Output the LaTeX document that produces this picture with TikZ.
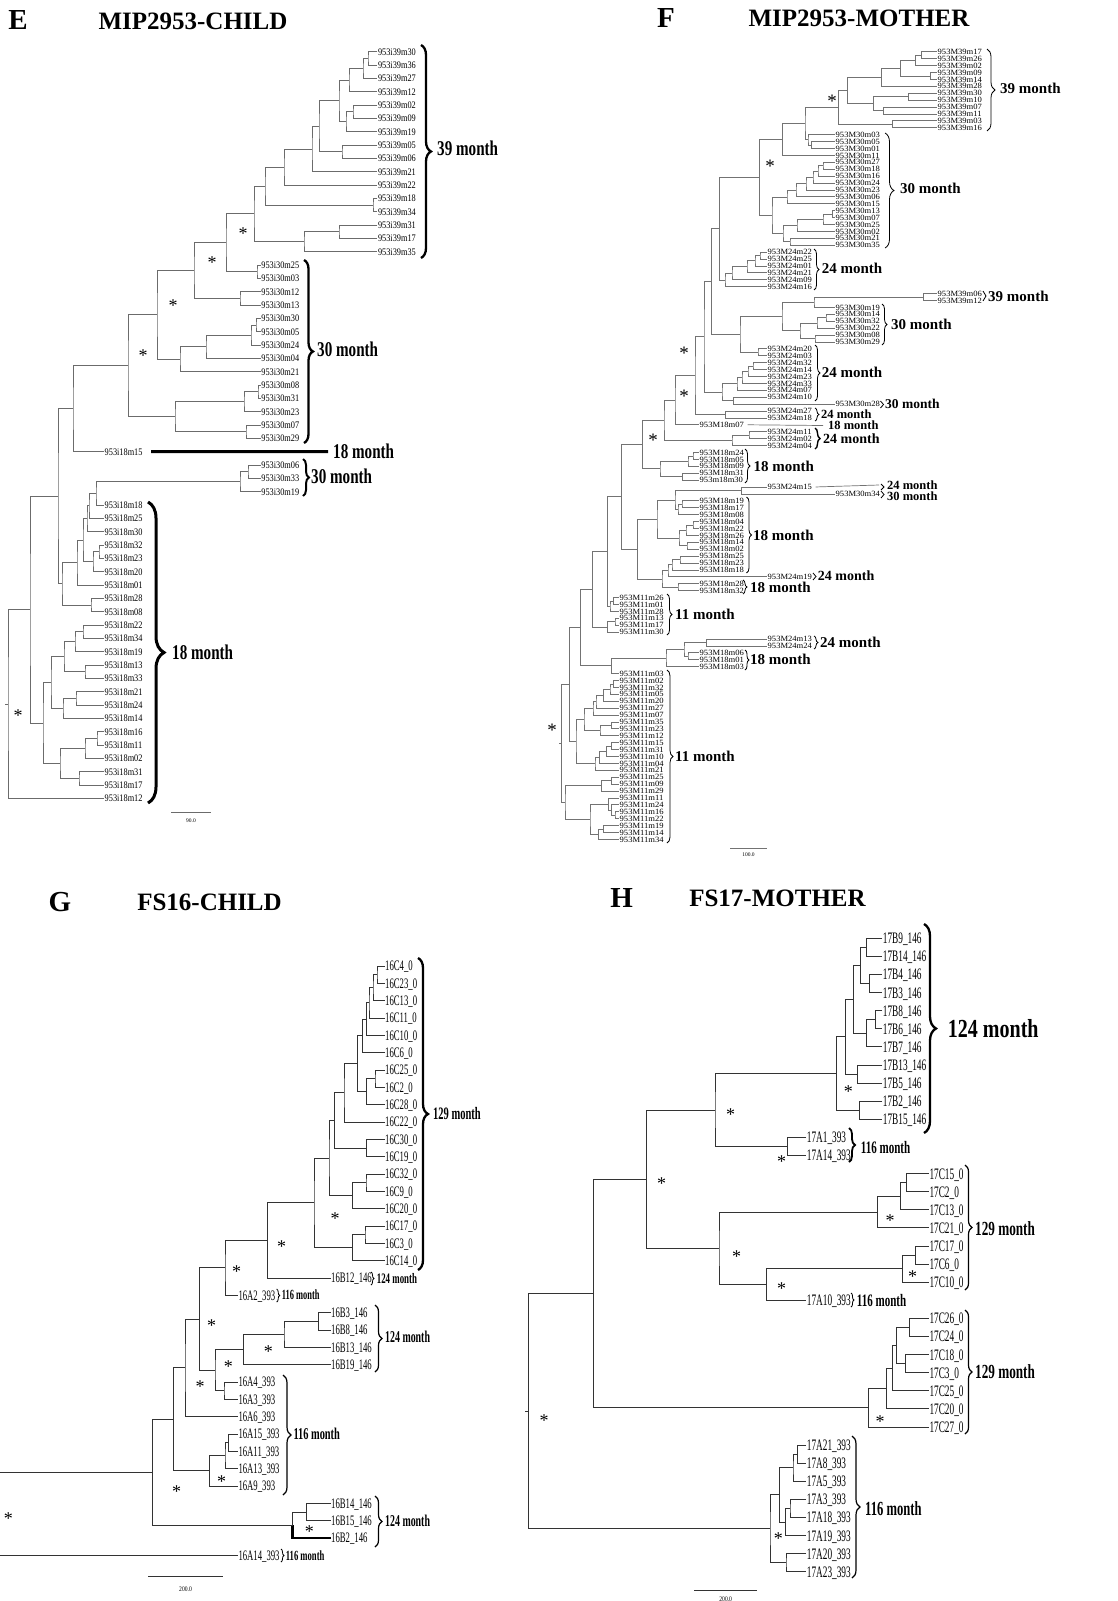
\documentclass[tikz,border=0pt]{standalone}
\usepackage{fontspec}
\setmainfont{Liberation Serif}
\usetikzlibrary{calc,decorations.pathreplacing}
\tikzset{
 tree/.style={draw=black!62,line width=0.8pt},
 lfE/.style={anchor=west,inner sep=0.5pt,font=\fontsize{10}{10}\selectfont,text height=6.8pt,text depth=0pt},
 lfF/.style={anchor=west,inner sep=0.5pt,font=\fontsize{8}{8}\selectfont,text height=5.4pt,text depth=0pt},
 lfG/.style={anchor=west,inner sep=0.5pt,font=\fontsize{14.5}{14.5}\selectfont,text height=9.8pt,text depth=0pt},
 lfH/.style={anchor=west,inner sep=0.5pt,font=\fontsize{16}{16}\selectfont,text height=10.8pt,text depth=0pt},
 ast/.style={inner sep=0pt,font=\fontsize{18}{18}\selectfont,yshift=-3.4pt},
 ttl/.style={inner sep=0pt,font=\fontsize{25}{25}\selectfont\bfseries},
 letr/.style={inner sep=0pt,font=\fontsize{29}{29}\selectfont\bfseries},
 sbl/.style={inner sep=0pt,font=\fontsize{5.5}{5.5}\selectfont}
}
\newcommand\tjoin[4]{\path let \p1=(#3),\p2=(#4) in ({#2pt},{0.5*(\y1+\y2)}) coordinate (#1);\draw[tree] (#3) -| (#1) |- (#4);}
\newcommand\leafE[4]{\node[lfE] (#1) at (#2,{-(51.7+13.3333*#3)}) {\scalebox{0.83}[1]{#4}};}
\newcommand\leafF[4]{\node[lfF] (#1) at (#2,{-(51.7+6.909*#3)}) {\scalebox{1.07}[1]{#4}};}
\newcommand\leafG[4]{\node[lfG] (#1) at (#2,{-(966+17.333*#3)}) {\scalebox{0.6}[1]{#4}};}
\newcommand\leafH[4]{\node[lfH] (#1) at (#2,{-(938.3+18.1*#3)}) {\scalebox{0.58}[1]{#4}};}
\newcommand\monthlab[6]{\node[anchor=west,inner sep=0pt,font=\fontsize{#4}{#4}\selectfont\bfseries] (#1) at (#2,-#3) {\scalebox{#5}[1]{#6}};}
\newcommand\astk[3]{\node[ast] (#1) at (#2,-#3) {*};}
\newcommand\brc[5]{\draw[decorate,decoration={brace,amplitude=#5pt},line width=#1pt] (#2,-#3) -- (#2,-#4);}
\begin{document}
\begin{tikzpicture}[x=1pt,y=1pt]
\useasboundingbox (0,0) rectangle (1118,-1601);
\fill[white] (0,0) rectangle (1118,-1601);
% ---------------- titles
\node[letr] (lE) at (18,-20) {E};
\node[ttl] (tE) at (193,-21) {MIP2953-CHILD};
\node[letr] (lF) at (666,-18) {F};
\node[ttl] (tF) at (859,-18) {MIP2953-MOTHER};
\node[letr] (lG) at (60,-902) {G};
\node[ttl] (tG) at (209.5,-902) {FS16-CHILD};
\node[letr] (lH) at (621.7,-898.3) {H};
\node[ttl] (tH) at (777.5,-898.3) {FS17-MOTHER};
% ================= PANEL E
\tikzset{tree/.style={draw=black!58,line width=0.8pt}}
\foreach \n [count=\k from 0] in {39m30,39m36,39m27,39m12,39m02,39m09,39m19,39m05,39m06,39m21,39m22,39m18,39m34,39m31,39m17,39m35}{\leafE{E\n}{377.3}{\k}{953i\n}}
\foreach \n [count=\k from 16] in {30m25,30m03,30m12,30m13,30m30,30m05,30m24,30m04,30m21,30m08,30m31,30m23,30m07,30m29}{\leafE{E\n}{260.7}{\k}{953i\n}}
\leafE{E18m15}{104}{30}{953i18m15}
\foreach \n [count=\k from 31] in {30m06,30m33,30m19}{\leafE{E\n}{260.7}{\k}{953i\n}}
\foreach \n [count=\k from 34] in {18m18,18m25,18m30,18m32,18m23,18m20,18m01,18m28,18m08,18m22,18m34,18m19,18m13,18m33,18m21,18m24,18m14,18m16,18m11,18m02,18m31,18m17,18m12}{\leafE{E\n}{104}{\k}{953i\n}}
\tjoin{ea1}{368}{E39m30.west}{E39m36.west}
\tjoin{ea2}{363}{ea1}{E39m27.west}
\tjoin{ea3}{349}{ea2}{E39m12.west}
\tjoin{ea4}{353}{E39m02.west}{E39m09.west}
\tjoin{ea5}{346}{ea4}{E39m19.west}
\tjoin{ea6}{339}{ea3}{ea5}
\tjoin{ea7}{342}{E39m05.west}{E39m06.west}
\tjoin{ea8}{319}{ea6}{ea7}
\tjoin{ea9}{312}{ea8}{E39m21.west}
\tjoin{ea10}{284}{ea9}{E39m22.west}
\tjoin{ea11}{373}{E39m18.west}{E39m34.west}
\tjoin{ea12}{265}{ea10}{ea11}
\tjoin{ea13}{339}{E39m31.west}{E39m17.west}
\tjoin{ea14}{304}{ea13}{E39m35.west}
\tjoin{ea15}{254}{ea12}{ea14}
\tjoin{eb1}{257}{E30m25.west}{E30m03.west}
\tjoin{ea16}{226}{ea15}{eb1}
\tjoin{eb2}{240}{E30m12.west}{E30m13.west}
\tjoin{ea17}{194}{ea16}{eb2}
\tjoin{eb3}{256}{E30m30.west}{E30m05.west}
\tjoin{eb4}{251}{eb3}{E30m24.west}
\tjoin{eb5}{206}{eb4}{E30m04.west}
\tjoin{eb6}{180}{eb5}{E30m21.west}
\tjoin{ea18}{157}{ea17}{eb6}
\tjoin{eb7}{258}{E30m08.west}{E30m31.west}
\tjoin{eb8}{244}{eb7}{E30m23.west}
\tjoin{eb9}{246}{E30m07.west}{E30m29.west}
\tjoin{eb10}{175}{eb8}{eb9}
\tjoin{ea19}{128}{ea18}{eb10}
\tjoin{ea20}{73}{ea19}{E18m15.west}
\tjoin{ec1}{248}{E30m06.west}{E30m33.west}
\tjoin{ec2}{240}{ec1}{E30m19.west}
\tjoin{ed1}{96}{ec2}{E18m18.west}
\tjoin{ed2}{89}{ed1}{E18m25.west}
\tjoin{ed3}{87}{ed2}{E18m30.west}
\tjoin{ed4}{99}{E18m32.west}{E18m23.west}
\tjoin{ed5}{93}{ed4}{E18m20.west}
\tjoin{ed6}{83}{ed3}{ed5}
\tjoin{ed7}{77}{ed6}{E18m01.west}
\tjoin{ed8}{91}{E18m28.west}{E18m08.west}
\tjoin{ed9}{62}{ed7}{ed8}
\tjoin{ea21}{58}{ea20}{ed9}
\tjoin{ef1}{83}{E18m22.west}{E18m34.west}
\tjoin{ef2}{75}{ef1}{E18m19.west}
\tjoin{ef3}{85}{E18m13.west}{E18m33.west}
\tjoin{ef4}{64}{ef2}{ef3}
\tjoin{ef5}{76}{E18m21.west}{E18m24.west}
\tjoin{ef6}{63}{ef5}{E18m14.west}
\tjoin{ef7}{51}{ef4}{ef6}
\tjoin{ef8}{97}{E18m16.west}{E18m11.west}
\tjoin{ef9}{85}{ef8}{E18m02.west}
\tjoin{ef10}{79}{E18m31.west}{E18m17.west}
\tjoin{ef11}{60}{ef9}{ef10}
\tjoin{ef12}{43}{ef7}{ef11}
\tjoin{eg1}{30}{ea21}{ef12}
\tjoin{eroot}{8}{eg1}{E18m12.west}
\draw[tree] (eroot) -- ++(-3,0);
\astk{sE1}{243}{230}\astk{sE2}{212}{259}\astk{sE3}{173}{302}\astk{sE4}{143}{352}\astk{sE5}{18}{712}
\brc{2.3}{421}{45}{258}{10}
\brc{2.3}{304}{260}{443}{9}
\brc{2.0}{303}{459}{496}{6}
\brc{3.0}{148}{502}{803}{16}
\monthlab{mE39}{437}{148}{21}{0.72}{39 month}
\monthlab{mE30a}{317}{349}{21}{0.72}{30 month}
\monthlab{mE18a}{333}{451.7}{21}{0.72}{18 month}
\monthlab{mE30b}{311}{476}{21}{0.72}{30 month}
\monthlab{mE18b}{172}{652}{21}{0.72}{18 month}
\draw[line width=3pt] ([xshift=8pt]E18m15.east) -- ([xshift=-5pt]mE18a.west);
\coordinate (sbE1) at (171,-812.7); \coordinate (sbE2) at (211,-812.7);
\draw[tree] (sbE1) -- (sbE2);
\node[sbl] (sbEl) at (191,-821) {90.0};
% ================= PANEL F
\tikzset{tree/.style={draw=black!55,line width=0.7pt}}
\foreach \n [count=\k from 0] in {39m17,39m26,39m02,39m09,39m14,39m28,39m30,39m10,39m07,39m11,39m03,39m16}{\leafF{F\n}{937}{\k}{953M\n}}
\foreach \n [count=\k from 12] in {30m03,30m05,30m01,30m11,30m27,30m18,30m16,30m24,30m23,30m06,30m15,30m13,30m07,30m25,30m02,30m21,30m35}{\leafF{F\n}{835}{\k}{953M\n}}
\foreach \n [count=\k from 29] in {24m22,24m25,24m01,24m21,24m09,24m16}{\leafF{F\n}{767}{\k}{953M\n}}
\foreach \n [count=\k from 35] in {39m06,39m12}{\leafF{F\n}{937}{\k}{953M\n}}
\foreach \n [count=\k from 37] in {30m19,30m14,30m32,30m22,30m08,30m29}{\leafF{F\n}{835}{\k}{953M\n}}
\foreach \n [count=\k from 43] in {24m20,24m03,24m32,24m14,24m23,24m33,24m07,24m10}{\leafF{F\n}{767}{\k}{953M\n}}
\leafF{F30m28}{835}{51}{953M30m28}
\leafF{F24m27}{767}{52}{953M24m27}
\leafF{F24m18}{767}{53}{953M24m18}
\leafF{F18m07}{699}{54}{953M18m07}
\foreach \n [count=\k from 55] in {24m11,24m02,24m04}{\leafF{F\n}{767}{\k}{953M\n}}
\foreach \n [count=\k from 58] in {18m24,18m05,18m09,18m31}{\leafF{F\n}{699}{\k}{953M\n}}
\leafF{F18m30}{699}{62}{953m18m30}
\leafF{F24m15}{767}{63}{953M24m15}
\leafF{F30m34}{835}{64}{953M30m34}
\foreach \n [count=\k from 65] in {18m19,18m17,18m08,18m04,18m22,18m26,18m14,18m02,18m25,18m23,18m18}{\leafF{F\n}{699}{\k}{953M\n}}
\leafF{F24m19}{767}{76}{953M24m19}
\leafF{F18m28}{699}{77}{953M18m28}
\leafF{F18m32}{699}{78}{953M18m32}
\foreach \n [count=\k from 79] in {11m26,11m01,11m28,11m13,11m17,11m30}{\leafF{F\n}{619}{\k}{953M\n}}
\leafF{F24m13}{767}{85}{953M24m13}
\leafF{F24m24}{767}{86}{953M24m24}
\foreach \n [count=\k from 87] in {18m06,18m01,18m03}{\leafF{F\n}{699}{\k}{953M\n}}
\foreach \n [count=\k from 90] in {11m03,11m02,11m32,11m05,11m20,11m27,11m07,11m35,11m23,11m12,11m15,11m31,11m10,11m04,11m21,11m25,11m09,11m29,11m11,11m24,11m16,11m22,11m19,11m14,11m34}{\leafF{F\n}{619}{\k}{953M\n}}
\tjoin{fa1}{921.7}{F39m17.west}{F39m26.west}
\tjoin{fa2}{915}{fa1}{F39m02.west}
\tjoin{fa3}{930}{F39m09.west}{F39m14.west}
\tjoin{fa4}{900}{fa2}{fa3}
\tjoin{fa5}{881.7}{fa4}{F39m28.west}
\tjoin{fa6}{908}{F39m30.west}{F39m10.west}
\tjoin{fa7}{883}{F39m07.west}{F39m11.west}
\tjoin{fa8}{873}{fa6}{fa7}
\tjoin{fa9}{847}{fa5}{fa8}
\tjoin{fa10}{892}{F39m03.west}{F39m16.west}
\tjoin{fa11}{838}{fa9}{fa10}
\tjoin{fb0}{811.7}{F30m05.west}{F30m01.west}
\tjoin{fb1}{808}{F30m03.west}{fb0}
\tjoin{fb2}{805}{fa11}{fb1}
\tjoin{fb3}{782.7}{fb2}{F30m11.west}
\tjoin{fc1}{823}{F30m27.west}{F30m18.west}
\tjoin{fc2}{818}{fc1}{F30m16.west}
\tjoin{fc3}{813}{fc2}{F30m24.west}
\tjoin{fc4}{806}{fc3}{F30m23.west}
\tjoin{fc5}{796}{fc4}{F30m06.west}
\tjoin{fc6}{787}{fc5}{F30m15.west}
\tjoin{fc7}{832}{F30m13.west}{F30m07.west}
\tjoin{fc8}{823}{fc7}{F30m25.west}
\tjoin{fc9}{797}{fc8}{F30m02.west}
\tjoin{fc10}{790}{F30m21.west}{F30m35.west}
\tjoin{fc11}{783}{fc9}{fc10}
\tjoin{fc12}{772}{fc6}{fc11}
\tjoin{fb4}{759.3}{fb3}{fc12}
\tjoin{fd1}{760}{F24m22.west}{F24m25.west}
\tjoin{fd2}{755}{fd1}{F24m01.west}
\tjoin{fd3}{747}{fd2}{F24m21.west}
\tjoin{fd4}{732}{fd3}{F24m09.west}
\tjoin{fd5}{725}{fd4}{F24m16.west}
\tjoin{fd6}{719.3}{fb4}{fd5}
\tjoin{fg1}{923}{F39m06.west}{F39m12.west}
\tjoin{fg2}{814}{fg1}{F30m19.west}
\tjoin{fg3}{826}{F30m14.west}{F30m32.west}
\tjoin{fg4}{817}{fg3}{F30m22.west}
\tjoin{fg6}{815}{F30m08.west}{F30m29.west}
\tjoin{fg5}{800}{fg4}{fg6}
\tjoin{fg7}{782}{fg2}{fg5}
\tjoin{fh1}{758}{F24m20.west}{F24m03.west}
\tjoin{fj1}{740}{fg7}{fh1}
\tjoin{fe}{711.7}{fd6}{fj1}
\tjoin{fh2}{753}{F24m32.west}{F24m14.west}
\tjoin{fh3}{748}{fh2}{F24m23.west}
\tjoin{fh4}{742}{fh3}{F24m33.west}
\tjoin{fh5}{737}{fh4}{F24m07.west}
\tjoin{fi1}{733.3}{F24m10.west}{F30m28.west}
\tjoin{fh6}{722}{fh5}{fi1}
\tjoin{fk1}{704}{fe}{fh6}
\tjoin{fl1}{725.7}{F24m27.west}{F24m18.west}
\tjoin{fk2}{695}{fk1}{fl1}
\tjoin{fk3}{675}{fk2}{F18m07.west}
\tjoin{fm0}{749}{F24m11.west}{F24m02.west}
\tjoin{fm1}{732}{fm0}{F24m04.west}
\tjoin{fk4}{664}{fk3}{fm1}
\tjoin{fn1}{693}{F18m24.west}{F18m05.west}
\tjoin{fn2}{688}{fn1}{F18m09.west}
\tjoin{fn3}{682.7}{F18m31.west}{F18m30.west}
\tjoin{fn}{660}{fn2}{fn3}
\tjoin{fk5}{642.7}{fk4}{fn}
\tjoin{fq1}{741.7}{F24m15.west}{F30m34.west}
\tjoin{fr1}{682}{F18m19.west}{F18m17.west}
\tjoin{fr2}{678}{fr1}{F18m08.west}
\tjoin{fq2}{675}{fq1}{fr2}
\tjoin{fr3}{693}{F18m04.west}{F18m22.west}
\tjoin{fr4}{686}{fr3}{F18m26.west}
\tjoin{fr5}{687}{F18m14.west}{F18m02.west}
\tjoin{fr6}{679}{fr4}{fr5}
\tjoin{fr7}{657}{fq2}{fr6}
\tjoin{fs1}{680}{F18m25.west}{F18m23.west}
\tjoin{fs2}{672}{fs1}{F18m18.west}
\tjoin{fs3}{668}{fs2}{F24m19.west}
\tjoin{fs4}{678}{F18m28.west}{F18m32.west}
\tjoin{fs5}{662}{fs3}{fs4}
\tjoin{fp}{637.7}{fr7}{fs5}
\tjoin{fk6}{621.7}{fk5}{fp}
\tjoin{ft1}{613.3}{F11m26.west}{F11m01.west}
\tjoin{ft2}{610}{ft1}{F11m28.west}
\tjoin{fu1}{607.3}{fk6}{ft2}
\tjoin{ft3}{615}{F11m13.west}{F11m17.west}
\tjoin{ft4}{607.3}{ft3}{F11m30.west}
\tjoin{fu2}{592.7}{fu1}{ft4}
\tjoin{fx1}{706.7}{F24m13.west}{F24m24.west}
\tjoin{fx2}{688}{F18m06.west}{F18m01.west}
\tjoin{fx3}{684}{fx1}{fx2}
\tjoin{fx4}{666}{fx3}{F18m03.west}
\tjoin{fx5}{611.7}{fx4}{F11m03.west}
\tjoin{fu3}{580.7}{fu2}{fx5}
\tjoin{fya1}{613.3}{F11m02.west}{F11m32.west}
\tjoin{fya2}{610}{fya1}{F11m05.west}
\tjoin{fya3}{603.3}{fya2}{F11m20.west}
\tjoin{fya4}{596}{fya3}{F11m27.west}
\tjoin{fya5}{593}{fya4}{F11m07.west}
\tjoin{fyb0}{611.7}{F11m35.west}{F11m23.west}
\tjoin{fya6}{600}{fyb0}{F11m12.west}
\tjoin{fya7}{584}{fya5}{fya6}
\tjoin{fyb1}{611.7}{F11m15.west}{F11m31.west}
\tjoin{fyb2}{606.7}{fyb1}{F11m10.west}
\tjoin{fyb3}{599.3}{fyb2}{F11m04.west}
\tjoin{fyb4}{595}{fyb3}{F11m21.west}
\tjoin{fya}{576}{fya7}{fyb4}
\tjoin{fu4}{569.3}{fu3}{fya}
\tjoin{fza}{611.7}{F11m25.west}{F11m09.west}
\tjoin{fz1}{601.7}{fza}{F11m29.west}
\tjoin{fz3}{615}{F11m16.west}{F11m22.west}
\tjoin{fz4}{611.7}{F11m24.west}{fz3}
\tjoin{fz5}{608.3}{F11m11.west}{fz4}
\tjoin{fz6}{603.3}{F11m19.west}{F11m14.west}
\tjoin{fz7}{598.3}{fz6}{F11m34.west}
\tjoin{fz8}{590}{fz5}{fz7}
\tjoin{fB}{565}{fz1}{fz8}
\tjoin{froot}{561.7}{fu4}{fB}
\draw[tree] (froot) -- ++(-3,0);
\begin{scope}[ast/.style={inner sep=0pt,font=\fontsize{19}{19}\selectfont,yshift=-3.6pt}]
\astk{sF1}{832}{98}\astk{sF2}{770}{163}\astk{sF3}{684}{350}\astk{sF4}{684}{393}\astk{sF5}{653}{437}\astk{sF6}{552}{727}
\end{scope}
\brc{0.8}{987}{49}{131}{8}
\brc{0.8}{885}{133}{248}{9}
\brc{0.8}{814}{249}{290}{5}
\brc{0.8}{983}{291}{301}{3}
\brc{0.8}{882}{304}{345}{5}
\brc{0.8}{815}{345}{401}{5}
\brc{0.8}{880.5}{401}{408}{3}
\brc{0.8}{815}{408}{421}{4}
\brc{1.4}{815}{428}{449}{5}
\brc{0.8}{745}{449}{483}{5}
\brc{0.8}{881}{484}{490}{3}
\brc{0.8}{881}{491}{498}{3}
\brc{0.8}{746.5}{497}{573}{5}
\brc{0.8}{813}{573}{580}{3}
\brc{0.8}{743}{580}{594}{4}
\brc{0.8}{667}{594}{635}{5}
\brc{0.8}{814}{636}{649}{4}
\brc{0.8}{745}{650}{670}{4}
\brc{0.8}{667}{670}{843}{6}
\monthlab{mF39a}{1000}{88}{15}{1}{39 month}
\monthlab{mF30a}{900}{188}{15}{1}{30 month}
\monthlab{mF24a}{821.7}{268}{15}{1}{24 month}
\monthlab{mF39b}{988}{296.7}{15}{1}{39 month}
\monthlab{mF30b}{891}{324}{15}{1}{30 month}
\monthlab{mF24b}{821.7}{372.7}{15}{1}{24 month}
\monthlab{mF30c}{885}{404}{13.5}{1}{30 month}
\monthlab{mF24c}{821}{414}{12.5}{1}{24 month}
\monthlab{mF18a}{828}{425.5}{12.5}{1}{18 month}
\monthlab{mF24d}{823}{439}{14}{1}{24 month}
\monthlab{mF18b}{753.3}{466}{15}{1}{18 month}
\monthlab{mF24e}{887}{485}{12.5}{1}{24 month}
\monthlab{mF30d}{887}{496.5}{12.5}{1}{30 month}
\monthlab{mF18c}{753}{535}{15}{1}{18 month}
\monthlab{mF24f}{817.7}{576}{14}{1}{24 month}
\monthlab{mF18d}{750}{587.5}{15}{1}{18 month}
\monthlab{mF11a}{675}{614}{15}{1}{11 month}
\monthlab{mF24g}{820}{642}{15}{1}{24 month}
\monthlab{mF18e}{750}{659.7}{15}{1}{18 month}
\monthlab{mF11b}{675}{756.7}{15}{1}{11 month}
\draw[tree] ([xshift=3pt]F18m07.east) -- ([xshift=-5pt]mF18a.west);
\draw[tree] ([xshift=3pt]F24m15.east) -- ([xshift=-8pt]mF24e.west);
\coordinate (sbF1) at (730,-848.7); \coordinate (sbF2) at (767.3,-848.7);
\draw[tree] (sbF1) -- (sbF2);
\node[sbl] (sbFl) at (748.5,-855) {100.0};
% ================= PANEL G
\tikzset{tree/.style={draw=black!80,line width=0.9pt}}
\foreach \n [count=\k from 0] in {C4,C23,C13,C11,C10,C6,C25,C2,C28,C22,C30,C19,C32,C9,C20,C17,C3,C14}{\leafG{G\n}{384.5}{\k}{16\n\_0}}
\leafG{GB12}{330.5}{18}{16B12\_146}
\leafG{GA2}{237.8}{19}{16A2\_393}
\foreach \n [count=\k from 20] in {B3,B8,B13,B19}{\leafG{G\n}{330.5}{\k}{16\n\_146}}
\foreach \n [count=\k from 24] in {A4,A3,A6,A15,A11,A13,A9}{\leafG{G\n}{237.8}{\k}{16\n\_393}}
\foreach \n [count=\k from 31] in {B14,B15,B2}{\leafG{G\n}{330.5}{\k}{16\n\_146}}
\leafG{GA14}{237.8}{34}{16A14\_393}
\tjoin{ga1}{377}{GC4.west}{GC23.west}
\tjoin{ga2}{373}{ga1}{GC13.west}
\tjoin{ga3}{369}{ga2}{GC11.west}
\tjoin{ga4}{366.7}{ga3}{GC10.west}
\tjoin{ga5}{362.3}{ga4}{GC6.west}
\tjoin{gb1}{375}{GC25.west}{GC2.west}
\tjoin{gb2}{366.7}{gb1}{GC28.west}
\tjoin{ga6}{357.3}{ga5}{gb2}
\tjoin{ga7}{344}{ga6}{GC22.west}
\tjoin{gc1}{366.7}{GC30.west}{GC19.west}
\tjoin{ga8}{334.3}{ga7}{gc1}
\tjoin{gd1}{366}{GC32.west}{GC9.west}
\tjoin{gd2}{352.3}{gd1}{GC20.west}
\tjoin{ga9}{329}{ga8}{gd2}
\tjoin{ge1}{365}{GC17.west}{GC3.west}
\tjoin{ge2}{352.3}{ge1}{GC14.west}
\tjoin{gf}{314}{ga9}{ge2}
\tjoin{gg}{267.7}{gf}{GB12.west}
\tjoin{gh}{225}{gg}{GA2.west}
\tjoin{gi1}{318.3}{GB3.west}{GB8.west}
\tjoin{gi2}{284}{gi1}{GB13.west}
\tjoin{gi}{243.3}{gi2}{GB19.west}
\tjoin{gj1}{224}{GA4.west}{GA3.west}
\tjoin{gj}{215}{gi}{gj1}
\tjoin{gk}{199.3}{gh}{gj}
\tjoin{gl}{185}{gk}{GA6.west}
\tjoin{gm1}{228.3}{GA15.west}{GA11.west}
\tjoin{gm2}{225}{gm1}{GA13.west}
\tjoin{gm}{209.3}{gm2}{GA9.west}
\tjoin{gn}{173.3}{gl}{gm}
\tjoin{gp1}{306.7}{GB14.west}{GB15.west}
\tjoin{gp}{292.7}{gp1}{GB2.west}
\draw[line width=2.6pt] (gp) |- (GB2.west);
\tjoin{go}{152.7}{gn}{gp}
\coordinate (gL) at (0,0);
\draw[tree] (go) -- (go -| gL);
\draw[tree] (GA14.west) -- (GA14.west -| gL);
\astk{sG1}{335}{1215}\astk{sG2}{281.7}{1243.3}\astk{sG3}{236.7}{1268.3}\astk{sG4}{211.7}{1321.7}
\astk{sG5}{268.3}{1348.3}\astk{sG6}{228.3}{1363.3}\astk{sG7}{200}{1383.3}\astk{sG8}{221.7}{1478.3}
\astk{sG9}{176.7}{1488.3}\astk{sG10}{309.3}{1527.7}\astk{sG11}{8.3}{1515}
\brc{2.3}{418}{958}{1270}{10}
\brc{0.8}{371}{1272}{1285}{3}
\brc{0.8}{276.7}{1289}{1302}{3}
\brc{1.2}{375}{1305}{1372}{7}
\brc{1.2}{283}{1375}{1495}{8}
\brc{1.2}{375}{1496}{1547}{7}
\brc{0.8}{281}{1549}{1562}{3}
\monthlab{mG129}{433}{1113.3}{17.5}{0.6}{129 month}
\monthlab{mG124a}{376.7}{1278.3}{14.5}{0.61}{124 month}
\monthlab{mG116a}{281.7}{1295}{14}{0.6}{116 month}
\monthlab{mG124b}{385}{1337}{16.5}{0.6}{124 month}
\monthlab{mG116b}{293.3}{1434}{16.5}{0.63}{116 month}
\monthlab{mG124c}{385}{1521}{16.5}{0.6}{124 month}
\monthlab{mG116c}{285.7}{1555.3}{14}{0.615}{116 month}
\coordinate (sbG1) at (148.3,-1576.7); \coordinate (sbG2) at (222.7,-1576.7);
\draw[tree] (sbG1) -- (sbG2);
\node[sbl,font=\fontsize{7}{7}\selectfont] (sbGl) at (185.5,-1589.3) {\scalebox{0.8}[1]{200.0}};
% ================= PANEL H
\foreach \n [count=\k from 0] in {B9,B14,B4,B3,B8,B6,B7,B13,B5,B2,B15}{\leafH{H\n}{882.2}{\k}{17\n\_146}}
\foreach \n [count=\k from 11] in {A1,A14}{\leafH{H\n}{806.2}{\k}{17\n\_393}}
\foreach \n [count=\k from 13] in {C15,C2,C13,C21,C17,C6,C10}{\leafH{H\n}{928.8}{\k}{17\n\_0}}
\leafH{HA10}{806.2}{20}{17A10\_393}
\foreach \n [count=\k from 21] in {C26,C24,C18,C3,C25,C20,C27}{\leafH{H\n}{928.8}{\k}{17\n\_0}}
\foreach \n [count=\k from 28] in {A21,A8,A5,A3,A18,A19,A20,A23}{\leafH{H\n}{806.2}{\k}{17\n\_393}}
\tjoin{hb1}{866.7}{HB9.west}{HB14.west}
\tjoin{hb2}{869.3}{HB4.west}{HB3.west}
\tjoin{hb3}{860}{hb1}{hb2}
\tjoin{hb4}{875}{HB8.west}{HB6.west}
\tjoin{hb5}{866}{hb4}{HB7.west}
\tjoin{hb6}{853.3}{hb3}{hb5}
\tjoin{hb7}{857.3}{HB13.west}{HB5.west}
\tjoin{hb8}{845}{hb6}{hb7}
\tjoin{hb9}{859.3}{HB2.west}{HB15.west}
\tjoin{hb10}{836}{hb8}{hb9}
\tjoin{ha1}{787.7}{HA1.west}{HA14.west}
\tjoin{hn1}{715}{hb10}{ha1}
\tjoin{hc1}{906.7}{HC15.west}{HC2.west}
\tjoin{hc2}{900}{hc1}{HC13.west}
\tjoin{hc3}{877.3}{hc2}{HC21.west}
\tjoin{hc4}{915}{HC17.west}{HC6.west}
\tjoin{hc5}{902.7}{hc4}{HC10.west}
\tjoin{hc6}{766.7}{hc5}{HA10.west}
\tjoin{hc7}{719}{hc3}{hc6}
\tjoin{hn2}{646.7}{hn1}{hc7}
\tjoin{hd1}{909.3}{HC26.west}{HC24.west}
\tjoin{hd2}{905}{HC18.west}{HC3.west}
\tjoin{hd3}{896.7}{hd1}{hd2}
\tjoin{hd4}{892.7}{hd3}{HC25.west}
\tjoin{hd5}{886}{hd4}{HC20.west}
\tjoin{hd6}{868.3}{hd5}{HC27.west}
\tjoin{hn3}{593.3}{hn2}{hd6}
\tjoin{hq1}{797.3}{HA21.west}{HA8.west}
\tjoin{hq2}{793}{hq1}{HA5.west}
\tjoin{hq3}{790}{HA3.west}{HA18.west}
\tjoin{hq4}{785.7}{hq3}{HA19.west}
\tjoin{hq5}{779.3}{hq2}{hq4}
\tjoin{hq6}{786}{HA20.west}{HA23.west}
\tjoin{hq7}{770}{hq5}{hq6}
\tjoin{hroot}{528.3}{hn3}{hq7}
\draw[tree] (hroot) -- ++(-3.3,0);
\astk{sH1}{848.3}{1087.7}\astk{sH2}{781.7}{1157.7}\astk{sH3}{730.7}{1110.7}\astk{sH4}{890}{1217.3}
\astk{sH5}{912.7}{1272.7}\astk{sH6}{781.7}{1285}\astk{sH7}{736.7}{1252.7}\astk{sH8}{661.7}{1180}
\astk{sH9}{880}{1418.3}\astk{sH10}{778.3}{1535}\astk{sH11}{544}{1416.7}
\brc{2.3}{924}{924}{1133}{12}
\brc{1.8}{849}{1128}{1162}{6}
\brc{1.2}{965}{1165}{1290}{7}
\brc{0.8}{851}{1293}{1307}{3}
\brc{1.2}{965}{1310}{1434}{7}
\brc{1.2}{852}{1436}{1578}{8}
\monthlab{mH124}{947.7}{1028.3}{26}{0.77}{124 month}
\monthlab{mH116a}{860.7}{1147}{17.5}{0.63}{116 month}
\monthlab{mH129a}{975}{1228.3}{20}{0.66}{129 month}
\monthlab{mH116b}{856.7}{1300}{17.5}{0.63}{116 month}
\monthlab{mH129b}{975}{1371.7}{20}{0.66}{129 month}
\monthlab{mH116c}{865}{1508.3}{20}{0.63}{116 month}
\coordinate (sbH1) at (694,-1590); \coordinate (sbH2) at (757.3,-1590);
\draw[tree] (sbH1) -- (sbH2);
\node[sbl,font=\fontsize{7}{7}\selectfont] (sbHl) at (725.7,-1599) {\scalebox{0.8}[1]{200.0}};
\end{tikzpicture}
\end{document}
